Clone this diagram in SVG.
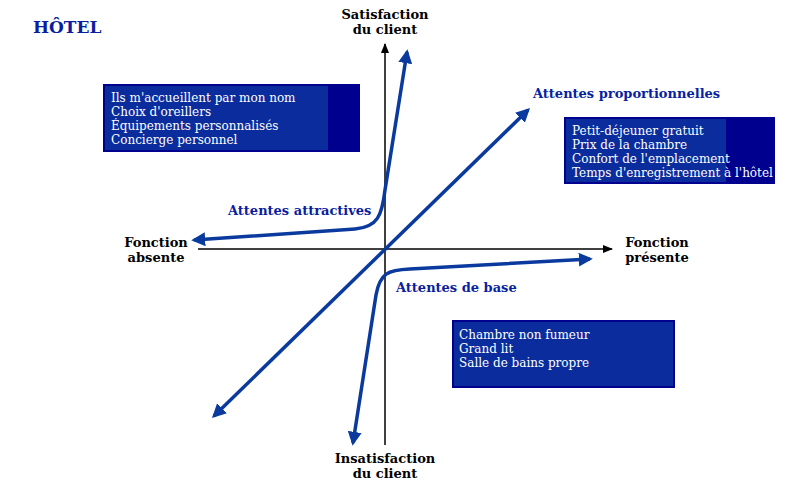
<svg xmlns="http://www.w3.org/2000/svg" width="800" height="488" viewBox="0 0 800 488">
<style>
text{font-family:"DejaVu Serif","Liberation Serif",serif;}
.ax{font-size:13px;font-weight:bold;fill:#000;text-anchor:middle}
.lb{font-size:13px;font-weight:bold;fill:#0a1fa0}
.bx{font-size:12px;fill:#fff}
.c{fill:none;stroke:#0b3a9e;stroke-width:3.5}
.a{fill:none;stroke:#000;stroke-width:1.5}
</style>
<defs>
<marker id="bh" viewBox="0 0 10 10" refX="8" refY="5" markerWidth="4" markerHeight="4" orient="auto-start-reverse"><path d="M0,0L10,5L0,10z" fill="#0b3a9e"/></marker>
<marker id="kh" viewBox="0 0 10 10" refX="9" refY="5" markerWidth="7" markerHeight="7" orient="auto-start-reverse"><path d="M0,1L10,5L0,9z" fill="#000"/></marker>
</defs>
<rect width="800" height="488" fill="#fff"/>
<text x="33" y="33" style="font-size:17px;font-weight:bold;fill:#0a1fa0">HÔTEL</text>
<g id="connectors">
<path class="a" d="M385,445V44" marker-end="url(#kh)"/>
<path class="a" d="M198,249H612" marker-end="url(#kh)"/>
<path class="c" d="M214,416L528,110" marker-start="url(#bh)" marker-end="url(#bh)"/>
<path class="c" d="M194,240L355,229C378,227 382,215 385,190L407,52" marker-start="url(#bh)" marker-end="url(#bh)"/>
<path class="c" d="M353,443L376,295C380,273 388,270 410,269L590,259" marker-start="url(#bh)" marker-end="url(#bh)"/>
</g>
<g id="axis-labels">
<text class="ax" x="385" y="19">Satisfaction</text>
<text class="ax" x="385" y="34">du client</text>
<text class="ax" x="385" y="463">Insatisfaction</text>
<text class="ax" x="385" y="478">du client</text>
<text class="ax" x="156" y="247">Fonction</text>
<text class="ax" x="156" y="262">absente</text>
<text class="ax" x="657" y="247">Fonction</text>
<text class="ax" x="657" y="262">présente</text>
</g>
<g id="curve-labels">
<text class="lb" x="228" y="215">Attentes attractives</text>
<text class="lb" x="533" y="98">Attentes proportionnelles</text>
<text class="lb" x="396" y="292">Attentes de base</text>
</g>
<g id="box1">
<rect x="103" y="84" width="257" height="68" fill="#00008f"/>
<rect x="105" y="86" width="223" height="64" fill="#0a2c9c"/>
<text class="bx" x="111" y="102">Ils m'accueillent par mon nom</text>
<text class="bx" x="111" y="116">Choix d'oreillers</text>
<text class="bx" x="111" y="130">Équipements personnalisés</text>
<text class="bx" x="111" y="144">Concierge personnel</text>
</g>
<g id="box2">
<rect x="564" y="117" width="211" height="67" fill="#00008f"/>
<rect x="566" y="119" width="160" height="63" fill="#0a2c9c"/>
<text class="bx" x="572" y="135">Petit-déjeuner gratuit</text>
<text class="bx" x="572" y="149">Prix de la chambre</text>
<text class="bx" x="572" y="163">Confort de l'emplacement</text>
<text class="bx" x="572" y="177">Temps d'enregistrement à l'hôtel</text>
</g>
<g id="box3">
<rect x="452" y="320" width="223" height="68" fill="#00008f"/>
<rect x="454" y="322" width="219" height="64" fill="#0a2c9c"/>
<text class="bx" x="459" y="339">Chambre non fumeur</text>
<text class="bx" x="459" y="353">Grand lit</text>
<text class="bx" x="459" y="367">Salle de bains propre</text>
</g>
</svg>
